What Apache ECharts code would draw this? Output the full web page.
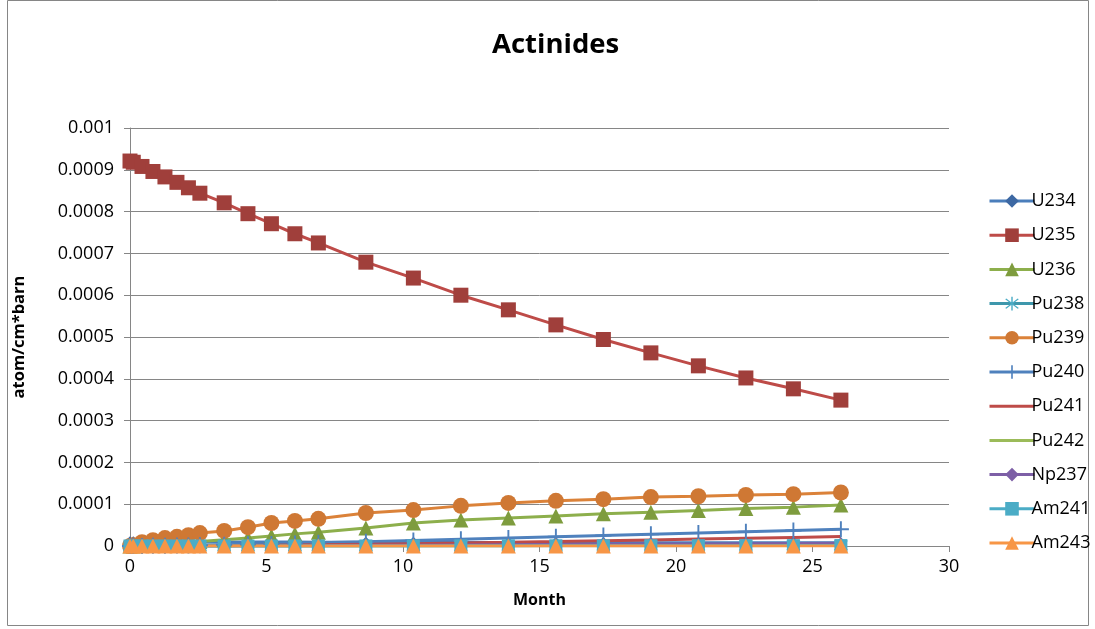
<!DOCTYPE html>
<html><head><meta charset="utf-8">
<script src="https://cdn.jsdelivr.net/npm/echarts@6/dist/echarts.min.js"></script>
<style>html,body{margin:0;padding:0;background:#fff}#c{width:1095px;height:629px}</style>
</head><body><div id="c"></div>
<script>
// ---- data ----
const months = [0, 0.12, 0.44, 0.84, 1.28, 1.72, 2.14, 2.56, 3.45, 4.32, 5.18, 6.04, 6.9, 8.64, 10.38, 12.12, 13.86, 15.6, 17.34, 19.08, 20.82, 22.56, 24.3, 26.04];
const xTicks = [0, 5, 10, 15, 20, 25, 30];
const yTicks = [0, 0.0001, 0.0002, 0.0003, 0.0004, 0.0005, 0.0006, 0.0007, 0.0008, 0.0009, 0.001];

const U234 = [1.0e-5, 1.0e-5, 9.9e-6, 9.9e-6, 9.8e-6, 9.8e-6, 9.7e-6, 9.7e-6, 9.6e-6, 9.5e-6, 9.4e-6, 9.3e-6, 9.2e-6, 9.0e-6, 8.8e-6, 8.6e-6, 8.5e-6, 8.3e-6, 8.2e-6, 8.0e-6, 7.9e-6, 7.8e-6, 7.6e-6, 7.5e-6];
const U235 = [0.000921, 0.000918, 0.000908, 0.000896, 0.000883, 0.000870, 0.000857, 0.000844, 0.000821, 0.000795, 0.000771, 0.000747, 0.000725, 0.000679, 0.000641, 0.000600, 0.000565, 0.000529, 0.000494, 0.000462, 0.000431, 0.000402, 0.000376, 0.000349];
const U236 = [0, 2e-7, 1.5e-6, 3e-6, 5e-6, 7e-6, 9e-6, 1.1e-5, 1.5e-5, 1.9e-5, 2.4e-5, 2.9e-5, 3.3e-5, 4.3e-5, 5.5e-5, 6.2e-5, 6.7e-5, 7.2e-5, 7.7e-5, 8.1e-5, 8.5e-5, 9.0e-5, 9.3e-5, 9.8e-5];
const Pu238 = [0, 0, 0, 0, 0, 1e-8, 2e-8, 3e-8, 6e-8, 1e-7, 1.4e-7, 2e-7, 2.6e-7, 4e-7, 5.5e-7, 7e-7, 8.5e-7, 1.0e-6, 1.1e-6, 1.2e-6, 1.3e-6, 1.4e-6, 1.45e-6, 1.5e-6];
const Pu239 = [0, 2e-6, 9e-6, 1.4e-5, 1.9e-5, 2.2e-5, 2.6e-5, 3.1e-5, 3.6e-5, 4.5e-5, 5.5e-5, 6.0e-5, 6.5e-5, 7.9e-5, 8.6e-5, 9.6e-5, 1.03e-4, 1.08e-4, 1.12e-4, 1.17e-4, 1.19e-4, 1.22e-4, 1.24e-4, 1.28e-4];
const Pu240 = [0, 0, 1e-7, 3e-7, 6e-7, 1e-6, 1.4e-6, 1.9e-6, 3e-6, 4e-6, 5e-6, 6.2e-6, 7.5e-6, 1.0e-5, 1.3e-5, 1.6e-5, 1.9e-5, 2.2e-5, 2.5e-5, 2.8e-5, 3.1e-5, 3.4e-5, 3.7e-5, 4.0e-5];
const Pu241 = [0, 0, 0, 0, 1e-7, 2e-7, 3e-7, 4e-7, 7e-7, 1.1e-6, 1.6e-6, 2.1e-6, 2.7e-6, 4e-6, 5.5e-6, 7e-6, 8.7e-6, 1.05e-5, 1.25e-5, 1.45e-5, 1.65e-5, 1.85e-5, 2.05e-5, 2.25e-5];
const Pu242 = [0, 0, 0, 0, 0, 0, 0, 1e-8, 2e-8, 4e-8, 7e-8, 1e-7, 1.4e-7, 2.5e-7, 4e-7, 6e-7, 8e-7, 1.0e-6, 1.3e-6, 1.5e-6, 1.8e-6, 2.0e-6, 2.3e-6, 2.5e-6];
const Np237 = [0, 0, 0, 0, 0, 0, 1e-7, 1e-7, 2e-7, 4e-7, 6e-7, 8e-7, 1e-6, 1.5e-6, 2e-6, 2.5e-6, 3e-6, 3.5e-6, 4e-6, 4.5e-6, 5e-6, 5.5e-6, 6e-6, 6.5e-6];
const Am241 = [0, 0, 0, 0, 0, 0, 0, 1e-8, 2e-8, 3e-8, 5e-8, 7e-8, 1e-7, 1.5e-7, 2e-7, 3e-7, 4e-7, 5e-7, 6e-7, 7e-7, 8e-7, 8.5e-7, 9e-7, 1.0e-6];
const Am243 = [0, 0, 0, 0, 0, 0, 0, 0, 0, 0, 0, 0, 0, 1e-9, 2e-9, 4e-9, 7e-9, 1e-8, 2e-8, 3e-8, 5e-8, 8e-8, 1.2e-7, 2e-7];

const names = ['U234', 'U235', 'U236', 'Pu238', 'Pu239', 'Pu240', 'Pu241', 'Pu242', 'Np237', 'Am241', 'Am243'];
const values = [U234, U235, U236, Pu238, Pu239, Pu240, Pu241, Pu242, Np237, Am241, Am243];

// ---- styles ----
const PLUS = 'path://M8.8,0H11.2V20H8.8ZM0,8.8H20V11.2H0Z';
const STAR = 'path://M9.2,0H10.8V20H9.2ZM2.4,3.6L3.6,2.4L17.6,16.4L16.4,17.6ZM16.4,2.4L17.6,3.6L3.6,17.6L2.4,16.4Z';
const styles = [
  {line: '#4A7EBB', mark: '#3D68A3', symbol: 'diamond', size: 11},
  {line: '#BE4B48', mark: '#A03F3B', symbol: 'rect', size: 15},
  {line: '#8DAF4C', mark: '#7E9C3E', symbol: 'triangle', size: 15},
  {line: '#3E97AC', mark: '#4BACC6', symbol: STAR, size: 14},
  {line: '#DB8239', mark: '#CF7834', symbol: 'circle', size: 16},
  {line: '#4F81BD', mark: '#4F81BD', symbol: PLUS, size: 16},
  {line: '#BE4B48', mark: '#BE4B48', symbol: 'none', size: 0},
  {line: '#9BBB59', mark: '#9BBB59', symbol: 'none', size: 0},
  {line: '#7D5FA6', mark: '#7D5FA6', symbol: 'diamond', size: 11},
  {line: '#4BACC6', mark: '#4BACC6', symbol: 'rect', size: 13},
  {line: '#F79646', mark: '#F79646', symbol: 'triangle', size: 15}
];

const FONT = '"Open Sans", Lato, sans-serif';
const series = names.map((n, i) => ({
  name: n,
  type: 'line',
  data: months.map((m, j) => [m, values[i][j]]),
  symbol: styles[i].symbol,
  symbolSize: styles[i].size,
  showSymbol: styles[i].symbol !== 'none',
  lineStyle: {color: styles[i].line, width: 3},
  itemStyle: {color: styles[i].mark, borderWidth: 0},
  emphasis: {disabled: true}
}));

const legendData = names.map((n, i) => styles[i].symbol === 'none'
  ? {name: n, itemStyle: {opacity: 0}}
  : {name: n});

const chart = echarts.init(document.getElementById('c'), null, {renderer: 'canvas'});
chart.setOption({
  animation: false,
  backgroundColor: '#fff',
  textStyle: {fontFamily: FONT},
  title: {
    text: 'Actinides', left: 487, top: 26,
    textStyle: {fontFamily: FONT, fontSize: 27.5, fontWeight: 'bold', color: '#000'}
  },
  graphic: [{
    type: 'rect', shape: {x: 7.5, y: 0.5, width: 1081, height: 625},
    style: {fill: null, stroke: '#868686', lineWidth: 1}, silent: true, z: -1
  }],
  grid: {left: 130, right: 146, top: 128, bottom: 83, containLabel: false},
  legend: {
    orient: 'vertical', left: 983, top: 187,
    itemWidth: 45, itemHeight: 17, itemGap: 16.2,
    lineStyle: {width: 3},
    textStyle: {fontFamily: FONT, fontSize: 18, color: '#000', padding: [0, 0, 0, -8]},
    data: legendData
  },
  xAxis: {
    type: 'value', min: xTicks[0], max: xTicks[xTicks.length - 1], interval: 5,
    name: 'Month', nameLocation: 'middle', nameGap: 46,
    nameTextStyle: {fontFamily: FONT, fontSize: 16, fontWeight: 'bold', color: '#000'},
    axisLine: {show: true, onZero: false, lineStyle: {color: '#868686', width: 1}},
    axisTick: {show: true, length: 6, inside: false, lineStyle: {color: '#868686'}},
    axisLabel: {fontFamily: FONT, fontSize: 18, color: '#000', margin: 12},
    splitLine: {show: false}
  },
  yAxis: {
    type: 'value', min: yTicks[0], max: yTicks[yTicks.length - 1], interval: 0.0001,
    name: 'atom/cm*barn', nameLocation: 'middle', nameGap: 102, nameRotate: 90,
    nameTextStyle: {fontFamily: FONT, fontSize: 16.5, fontWeight: 'bold', color: '#000'},
    axisLine: {show: true, lineStyle: {color: '#868686', width: 1}},
    axisTick: {show: true, length: 6, inside: false, lineStyle: {color: '#868686'}},
    axisLabel: {
      fontFamily: FONT, fontSize: 18, color: '#000', margin: 16,
      formatter: v => v === 0 ? '0' : String(parseFloat(v.toFixed(4)))
    },
    splitLine: {show: true, lineStyle: {color: '#868686', width: 1}}
  },
  series: series
});
</script></body></html>
